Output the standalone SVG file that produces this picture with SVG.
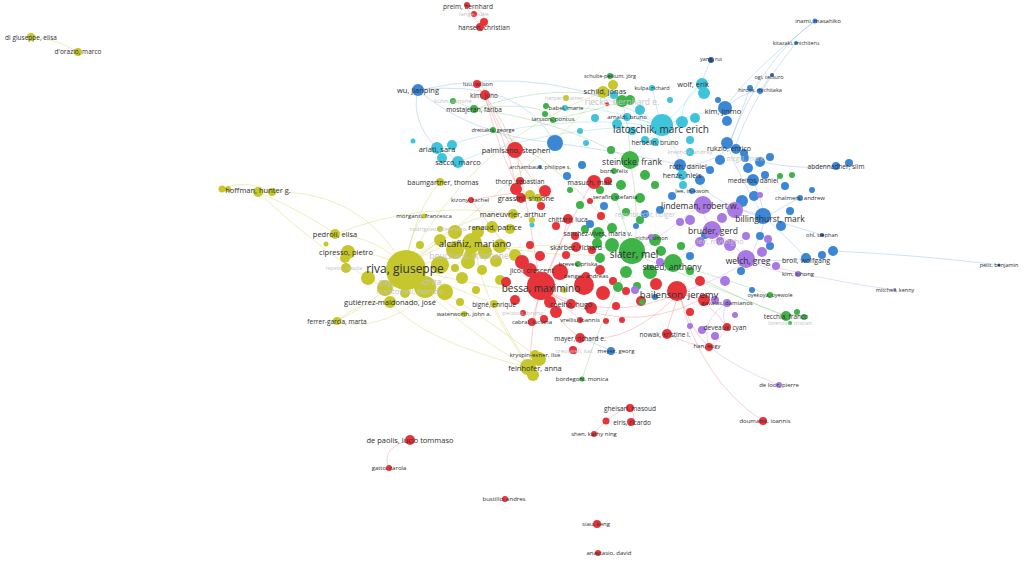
<svg xmlns="http://www.w3.org/2000/svg" width="1024" height="563" viewBox="0 0 1024 563">
<style>
.bg{fill:#fff}
.e{fill:none;stroke-width:1;opacity:.4}
.ey{stroke:#d2d26a}.er{stroke:#ee8a8c}.eg{stroke:#8ccf8c}.eb{stroke:#88b6ea}.ec{stroke:#86d8e6}.ep{stroke:#c4a6ec}
.y{fill:#c6c72c}.r{fill:#e6343a}.g{fill:#3db348}.b{fill:#3b87d6}.c{fill:#40c4dc}.p{fill:#a878e4}.d{fill:#2a5fa8}
text{font-family:"Open Sans","Liberation Sans",sans-serif;fill:#2e2e2e;text-anchor:middle;dominant-baseline:central}
text.f{fill:#c4c4c4}
.z5{font-size:5px}.z55{font-size:5.5px}.z6{font-size:6px}.z65{font-size:6.5px}.z7{font-size:7px}.z75{font-size:7.5px}.z85{font-size:8.5px}.z95{font-size:9.5px}.z10{font-size:10px}.z12{font-size:12px}
</style>
<rect class="bg" x="0" y="0" width="1024" height="563"/>
<g id="connectors">
<path class="e ey" d="M31,37 Q55,38 78,52"/>
<path class="e ey" d="M222,189 Q245,178 272,192"/>
<path class="e ey" d="M258,192 Q360,185 405,268"/>
<path class="e ey" d="M258,192 Q300,210 336,234"/>
<path class="e ey" d="M258,192 Q330,260 390,290"/>
<path class="e ey" d="M336,234 Q380,238 405,268"/>
<path class="e ey" d="M350,252 Q380,252 405,268"/>
<path class="e ey" d="M337,321 Q380,300 405,268"/>
<path class="e ey" d="M337,321 Q360,300 390,302"/>
<path class="e ey" d="M337,321 Q400,340 475,243"/>
<path class="e ey" d="M530,368 Q460,330 405,268"/>
<path class="e ey" d="M530,368 Q480,300 475,243"/>
<path class="e ey" d="M530,368 Q500,320 494,304"/>
<path class="e ey" d="M535,355 Q460,300 405,268"/>
<path class="e ey" d="M530,368 Q420,340 390,302"/>
<path class="e ey" d="M405,268 Q440,240 475,243"/>
<path class="e ey" d="M405,268 Q450,225 492,227"/>
<path class="e ey" d="M405,268 Q460,210 513,214"/>
<path class="e ey" d="M405,268 Q415,210 440,182"/>
<path class="e ey" d="M405,268 Q410,230 424,216"/>
<path class="e ey" d="M405,268 Q440,300 464,314"/>
<path class="e ey" d="M405,268 Q460,290 494,304"/>
<path class="e ey" d="M405,268 Q470,140 603,92"/>
<path class="e ey" d="M405,268 Q520,180 603,92"/>
<path class="e ey" d="M405,268 Q560,230 634,254"/>
<path class="e ey" d="M475,243 Q560,260 634,254"/>
<path class="e ey" d="M405,268 Q540,300 541,288"/>
<path class="e ey" d="M336,234 Q420,200 513,214"/>
<path class="e er" d="M467,5 Q468,16 483,25"/>
<path class="e er" d="M467,5 Q488,10 483,25"/>
<path class="e er" d="M477,84 Q486,86 485,95"/>
<path class="e er" d="M485,95 Q498,150 520,192"/>
<path class="e er" d="M477,84 Q508,140 517,190"/>
<path class="e er" d="M485,95 Q505,125 516,150"/>
<path class="e er" d="M485,95 Q515,160 542,192"/>
<path class="e er" d="M516,150 Q530,220 541,288"/>
<path class="e er" d="M541,288 Q535,278 532,270"/>
<path class="e er" d="M541,288 Q560,300 571,304"/>
<path class="e er" d="M541,288 Q535,310 532,322"/>
<path class="e er" d="M541,288 Q570,310 580,320"/>
<path class="e er" d="M541,288 Q555,320 580,338"/>
<path class="e er" d="M541,288 Q610,325 679,293"/>
<path class="e er" d="M541,288 Q560,240 592,182"/>
<path class="e er" d="M541,288 Q560,250 568,219"/>
<path class="e er" d="M541,288 Q620,340 700,300"/>
<path class="e er" d="M580,338 Q630,345 679,293"/>
<path class="e er" d="M679,293 Q670,320 666,334"/>
<path class="e er" d="M679,293 Q710,300 727,327"/>
<path class="e er" d="M679,293 Q690,330 709,347"/>
<path class="e er" d="M666,334 Q690,345 709,347"/>
<path class="e er" d="M727,327 Q720,340 709,347"/>
<path class="e er" d="M679,293 Q700,380 763,421"/>
<path class="e er" d="M541,288 Q530,330 530,368"/>
<path class="e er" d="M410,440 Q380,448 389,468"/>
<path class="e er" d="M628,408 Q638,415 631,422"/>
<path class="e er" d="M606,421 Q598,428 594,434"/>
<path class="e er" d="M606,421 Q620,410 628,408"/>
<path class="e er" d="M520,192 Q470,200 471,200"/>
<path class="e er" d="M471,200 Q500,240 541,288"/>
<path class="e eb" d="M418,90 Q520,78 555,143"/>
<path class="e eb" d="M418,90 Q470,135 555,143"/>
<path class="e eb" d="M418,90 Q410,120 437,149"/>
<path class="e eb" d="M418,90 Q560,60 661,127"/>
<path class="e eb" d="M815,21 Q760,60 728,147"/>
<path class="e eb" d="M815,21 Q740,80 725,110"/>
<path class="e eb" d="M796,43 Q750,100 735,148"/>
<path class="e eb" d="M769,77 Q766,85 760,90"/>
<path class="e eb" d="M760,90 Q735,95 725,110"/>
<path class="e eb" d="M750,88 Q735,130 728,147"/>
<path class="e eb" d="M711,59 Q705,75 700,84"/>
<path class="e eb" d="M765,218 Q740,180 728,147"/>
<path class="e eb" d="M765,218 Q790,240 806,258"/>
<path class="e eb" d="M765,218 Q785,205 800,198"/>
<path class="e eb" d="M765,218 Q760,195 753,180"/>
<path class="e eb" d="M836,166 Q800,170 760,162"/>
<path class="e eb" d="M833,251 Q920,255 999,265"/>
<path class="e eb" d="M806,258 Q780,262 748,260"/>
<path class="e eb" d="M688,166 Q720,160 728,147"/>
<path class="e eb" d="M688,166 Q700,200 765,218"/>
<path class="e eb" d="M611,351 Q600,345 580,338"/>
<path class="e eb" d="M555,143 Q610,150 688,166"/>
<path class="e eb" d="M822,235 Q790,225 765,218"/>
<path class="e ec" d="M661,127 Q690,100 700,84"/>
<path class="e ec" d="M661,127 Q700,110 725,110"/>
<path class="e ec" d="M661,127 Q640,118 627,117"/>
<path class="e ec" d="M661,127 Q660,138 655,142"/>
<path class="e ec" d="M661,127 Q655,100 652,88"/>
<path class="e ec" d="M661,127 Q630,100 603,92"/>
<path class="e ec" d="M661,127 Q550,125 458,162"/>
<path class="e ec" d="M661,127 Q550,110 437,149"/>
<path class="e ec" d="M437,149 Q450,152 458,162"/>
<path class="e ec" d="M661,127 Q640,150 630,160"/>
<path class="e ec" d="M661,127 Q680,150 682,175"/>
<path class="e ec" d="M700,84 Q680,100 682,122"/>
<path class="e ec" d="M661,127 Q600,105 566,108"/>
<path class="e eg" d="M474,109 Q462,104 453,101"/>
<path class="e eg" d="M474,109 Q560,80 622,101"/>
<path class="e eg" d="M474,109 Q560,120 630,160"/>
<path class="e eg" d="M474,109 Q540,100 553,119"/>
<path class="e eg" d="M493,130 Q560,160 634,254"/>
<path class="e eg" d="M630,160 Q640,210 634,254"/>
<path class="e eg" d="M634,254 Q660,258 673,264"/>
<path class="e eg" d="M634,254 Q615,240 600,233"/>
<path class="e eg" d="M634,254 Q720,290 786,316"/>
<path class="e eg" d="M673,264 Q730,280 770,295"/>
<path class="e eg" d="M634,254 Q620,210 615,197"/>
<path class="e eg" d="M622,101 Q600,110 553,119"/>
<path class="e eg" d="M622,101 Q630,130 630,160"/>
<path class="e eg" d="M673,264 Q740,300 786,316"/>
<path class="e eg" d="M786,316 Q798,312 804,317"/>
<path class="e eg" d="M582,379 Q600,320 634,254"/>
<path class="e ep" d="M700,205 Q705,220 712,230"/>
<path class="e ep" d="M712,230 Q735,245 748,260"/>
<path class="e ep" d="M748,260 Q760,240 765,218"/>
<path class="e ep" d="M748,260 Q780,275 798,274"/>
<path class="e ep" d="M700,205 Q740,205 765,218"/>
<path class="e ep" d="M679,293 Q700,300 727,303"/>
<path class="e ep" d="M709,347 Q700,320 727,303"/>
<path class="e ep" d="M727,327 Q720,315 727,303"/>
<path class="e ep" d="M748,260 Q820,280 895,290"/>
<path class="e ep" d="M712,230 Q690,250 673,264"/>
<path class="e ep" d="M700,205 Q670,230 634,254"/>
<path class="e ep" d="M748,260 Q720,280 679,293"/>
<path class="e ep" d="M709,347 Q740,370 779,385"/>
</g>
<g id="bubbles">
<g id="u-y1"><circle class="y" cx="440" cy="265" r="9"/></g>
<g id="u-y2"><circle class="y" cx="455" cy="250" r="9"/></g>
<g id="u-y3"><circle class="y" cx="468" cy="262" r="7"/></g>
<g id="u-y4"><circle class="y" cx="425" cy="287" r="11"/></g>
<g id="u-y5"><circle class="y" cx="445" cy="292" r="8"/></g>
<g id="u-y6"><circle class="y" cx="385" cy="288" r="8"/></g>
<g id="u-y7"><circle class="y" cx="368" cy="278" r="7"/></g>
<g id="u-y8"><circle class="y" cx="462" cy="278" r="6"/></g>
<g id="u-y9"><circle class="y" cx="485" cy="252" r="7"/></g>
<g id="u-y10"><circle class="y" cx="500" cy="246" r="7"/></g>
<g id="u-y11"><circle class="y" cx="496" cy="261" r="6"/></g>
<g id="u-y12"><circle class="y" cx="515" cy="255" r="6"/></g>
<g id="u-y13"><circle class="y" cx="455" cy="232" r="7"/></g>
<g id="u-y14"><circle class="y" cx="478" cy="232" r="6"/></g>
<g id="u-y15"><circle class="y" cx="510" cy="229" r="5"/></g>
<g id="u-y16"><circle class="y" cx="440" cy="240" r="6"/></g>
<g id="u-y17"><circle class="y" cx="420" cy="245" r="4"/></g>
<g id="u-y18"><circle class="y" cx="482" cy="270" r="5"/></g>
<g id="u-y19"><circle class="y" cx="500" cy="280" r="5"/></g>
<g id="u-y20"><circle class="y" cx="460" cy="302" r="4"/></g>
<g id="u-y21"><circle class="y" cx="476" cy="290" r="4"/></g>
<g id="u-y22"><circle class="y" cx="326" cy="244" r="2.5"/></g>
<g id="u-y23"><circle class="y" cx="345" cy="258" r="5"/></g>
<g id="u-y24"><circle class="y" cx="530" cy="195" r="5"/></g>
<g id="u-y25"><circle class="y" cx="538" cy="198" r="4"/></g>
<g id="u-y26"><circle class="y" cx="539" cy="359" r="7"/></g>
<g id="u-y27"><circle class="y" cx="533" cy="375" r="6"/></g>
<g id="u-y28"><circle class="y" cx="222" cy="189" r="3.5"/></g>
<g id="u-y29"><circle class="y" cx="228" cy="189" r="3"/></g>
<g id="u-y30"><circle class="y" cx="272" cy="192" r="4"/></g>
<g id="u-y31"><circle class="y" cx="613" cy="85" r="5"/></g>
<g id="u-y32"><circle class="y" cx="532" cy="220" r="3"/></g>
<g id="u-y33"><circle class="y" cx="564" cy="290" r="3"/></g>
<g id="u-y34"><circle class="y" cx="455" cy="268" r="4"/></g>
<g id="u-r1"><circle class="r" cx="522" cy="262" r="7"/></g>
<g id="u-r2"><circle class="r" cx="560" cy="272" r="8"/></g>
<g id="u-r3"><circle class="r" cx="584" cy="285" r="10"/></g>
<g id="u-r4"><circle class="r" cx="603" cy="293" r="7"/></g>
<g id="u-r5"><circle class="r" cx="591" cy="308" r="6"/></g>
<g id="u-r6"><circle class="r" cx="556" cy="312" r="6"/></g>
<g id="u-r7"><circle class="r" cx="515" cy="300" r="5"/></g>
<g id="u-r8"><circle class="r" cx="550" cy="302" r="6"/></g>
<g id="u-r9"><circle class="r" cx="600" cy="270" r="5"/></g>
<g id="u-r10"><circle class="r" cx="613" cy="281" r="4"/></g>
<g id="u-r11"><circle class="r" cx="540" cy="256" r="5"/></g>
<g id="u-r12"><circle class="r" cx="566" cy="255" r="4"/></g>
<g id="u-r13"><circle class="r" cx="506" cy="282" r="5"/></g>
<g id="u-r14"><circle class="r" cx="530" cy="245" r="4"/></g>
<g id="u-r15"><circle class="r" cx="616" cy="306" r="4"/></g>
<g id="u-r16"><circle class="r" cx="606" cy="321" r="3"/></g>
<g id="u-r17"><circle class="r" cx="575" cy="236" r="4"/></g>
<g id="u-r18"><circle class="r" cx="592" cy="250" r="4"/></g>
<g id="u-r19"><circle class="r" cx="626" cy="291" r="4"/></g>
<g id="u-r20"><circle class="r" cx="641" cy="301" r="5"/></g>
<g id="u-r21"><circle class="r" cx="656" cy="284" r="6"/></g>
<g id="u-r22"><circle class="r" cx="700" cy="281" r="5"/></g>
<g id="u-r23"><circle class="r" cx="704" cy="300" r="6"/></g>
<g id="u-r24"><circle class="r" cx="690" cy="312" r="4"/></g>
<g id="u-r25"><circle class="r" cx="545" cy="191" r="6"/></g>
<g id="u-r26"><circle class="r" cx="541" cy="206" r="4"/></g>
<g id="u-r27"><circle class="r" cx="556" cy="226" r="4"/></g>
<g id="u-r28"><circle class="r" cx="590" cy="201" r="3"/></g>
<g id="u-r29"><circle class="r" cx="601" cy="216" r="4"/></g>
<g id="u-r30"><circle class="r" cx="608" cy="181" r="4"/></g>
<g id="u-r31"><circle class="r" cx="516" cy="189" r="6"/></g>
<g id="u-r32"><circle class="r" cx="544" cy="319" r="4"/></g>
<g id="u-r33"><circle class="r" cx="573" cy="350" r="4"/></g>
<g id="u-r34"><circle class="r" cx="606" cy="421" r="3.5"/></g>
<g id="u-r35"><circle class="r" cx="607" cy="104" r="2"/></g>
<g id="u-r36"><circle class="r" cx="480" cy="27" r="4"/></g>
<g id="u-r37"><circle class="r" cx="622" cy="320" r="3"/></g>
<g id="u-g1"><circle class="g" cx="612" cy="245" r="7"/></g>
<g id="u-g2"><circle class="g" cx="655" cy="240" r="6"/></g>
<g id="u-g3"><circle class="g" cx="650" cy="272" r="7"/></g>
<g id="u-g4"><circle class="g" cx="626" cy="272" r="6"/></g>
<g id="u-g5"><circle class="g" cx="600" cy="258" r="5"/></g>
<g id="u-g6"><circle class="g" cx="612" cy="228" r="5"/></g>
<g id="u-g7"><circle class="g" cx="626" cy="212" r="4"/></g>
<g id="u-g8"><circle class="g" cx="640" cy="198" r="5"/></g>
<g id="u-g9"><circle class="g" cx="655" cy="185" r="4"/></g>
<g id="u-g10"><circle class="g" cx="600" cy="190" r="4"/></g>
<g id="u-g11"><circle class="g" cx="580" cy="205" r="4"/></g>
<g id="u-g12"><circle class="g" cx="621" cy="185" r="5"/></g>
<g id="u-g13"><circle class="g" cx="645" cy="175" r="5"/></g>
<g id="u-g14"><circle class="g" cx="611" cy="150" r="4"/></g>
<g id="u-g15"><circle class="g" cx="661" cy="251" r="5"/></g>
<g id="u-g16"><circle class="g" cx="681" cy="246" r="4"/></g>
<g id="u-g17"><circle class="g" cx="690" cy="271" r="4"/></g>
<g id="u-g18"><circle class="g" cx="618" cy="287" r="5"/></g>
<g id="u-g19"><circle class="g" cx="637" cy="286" r="4"/></g>
<g id="u-g20"><circle class="g" cx="597" cy="243" r="5"/></g>
<g id="u-g21"><circle class="g" cx="585" cy="229" r="4"/></g>
<g id="u-g22"><circle class="g" cx="640" cy="220" r="4"/></g>
<g id="u-g23"><circle class="g" cx="546" cy="106" r="3"/></g>
<g id="u-g24"><circle class="g" cx="797" cy="312" r="3"/></g>
<g id="u-g25"><circle class="g" cx="804" cy="317" r="3"/></g>
<g id="u-g26"><circle class="g" cx="780" cy="176" r="3"/></g>
<g id="u-g27"><circle class="g" cx="792" cy="175" r="3"/></g>
<g id="u-g28"><circle class="g" cx="570" cy="190" r="3"/></g>
<g id="u-g29"><circle class="g" cx="630" cy="100" r="5"/></g>
<g id="u-g30"><circle class="g" cx="642" cy="302" r="3"/></g>
<g id="u-g31"><circle class="g" cx="545" cy="114" r="3"/></g>
<g id="u-b1"><circle class="b" cx="555" cy="143" r="8"/></g>
<g id="u-b2"><circle class="b" cx="700" cy="180" r="5"/></g>
<g id="u-b3"><circle class="b" cx="710" cy="170" r="4"/></g>
<g id="u-b4"><circle class="b" cx="720" cy="160" r="5"/></g>
<g id="u-b5"><circle class="b" cx="736" cy="149" r="5"/></g>
<g id="u-b6"><circle class="b" cx="744" cy="153" r="4"/></g>
<g id="u-b7"><circle class="b" cx="748" cy="168" r="5"/></g>
<g id="u-b8"><circle class="b" cx="760" cy="162" r="5"/></g>
<g id="u-b9"><circle class="b" cx="770" cy="157" r="4"/></g>
<g id="u-b10"><circle class="b" cx="765" cy="175" r="4"/></g>
<g id="u-b11"><circle class="b" cx="754" cy="196" r="5"/></g>
<g id="u-b12"><circle class="b" cx="742" cy="201" r="6"/></g>
<g id="u-b13"><circle class="b" cx="785" cy="186" r="4"/></g>
<g id="u-b14"><circle class="b" cx="812" cy="190" r="3"/></g>
<g id="u-b15"><circle class="b" cx="790" cy="211" r="4"/></g>
<g id="u-b16"><circle class="b" cx="781" cy="226" r="5"/></g>
<g id="u-b17"><circle class="b" cx="760" cy="236" r="4"/></g>
<g id="u-b18"><circle class="b" cx="770" cy="246" r="4"/></g>
<g id="u-b19"><circle class="b" cx="822" cy="255" r="4"/></g>
<g id="u-b20"><circle class="b" cx="833" cy="251" r="5"/></g>
<g id="u-b21"><circle class="b" cx="849" cy="163" r="4"/></g>
<g id="u-b22"><circle class="b" cx="672" cy="196" r="4"/></g>
<g id="u-b23"><circle class="b" cx="660" cy="210" r="4"/></g>
<g id="u-b24"><circle class="b" cx="727" cy="121" r="5"/></g>
<g id="u-b25"><circle class="b" cx="718" cy="100" r="3"/></g>
<g id="u-b26"><circle class="b" cx="590" cy="224" r="4"/></g>
<g id="u-b27"><circle class="b" cx="604" cy="206" r="4"/></g>
<g id="u-b28"><circle class="b" cx="705" cy="235" r="4"/></g>
<g id="u-b29"><circle class="b" cx="690" cy="256" r="4"/></g>
<g id="u-b30"><circle class="b" cx="741" cy="271" r="4"/></g>
<g id="u-b31"><circle class="b" cx="752" cy="290" r="3"/></g>
<g id="u-b32"><circle class="b" cx="582" cy="165" r="4"/></g>
<g id="u-b33"><circle class="b" cx="567" cy="176" r="4"/></g>
<g id="u-b34"><circle class="b" cx="750" cy="88" r="3"/></g>
<g id="u-b35"><circle class="b" cx="655" cy="297" r="3"/></g>
<g id="u-b36"><circle class="b" cx="636" cy="226" r="3"/></g>
<g id="u-c1"><circle class="c" cx="682" cy="122" r="6"/></g>
<g id="u-c2"><circle class="c" cx="695" cy="118" r="5"/></g>
<g id="u-c3"><circle class="c" cx="704" cy="93" r="6"/></g>
<g id="u-c4"><circle class="c" cx="640" cy="110" r="5"/></g>
<g id="u-c5"><circle class="c" cx="617" cy="124" r="5"/></g>
<g id="u-c6"><circle class="c" cx="645" cy="140" r="4"/></g>
<g id="u-c7"><circle class="c" cx="595" cy="118" r="4"/></g>
<g id="u-c8"><circle class="c" cx="580" cy="131" r="3"/></g>
<g id="u-c9"><circle class="c" cx="632" cy="131" r="4"/></g>
<g id="u-c10"><circle class="c" cx="690" cy="140" r="4"/></g>
<g id="u-c11"><circle class="c" cx="670" cy="100" r="3"/></g>
<g id="u-c12"><circle class="c" cx="614" cy="95" r="4"/></g>
<g id="u-c13"><circle class="c" cx="586" cy="143" r="3"/></g>
<g id="u-c14"><circle class="c" cx="452" cy="145" r="5"/></g>
<g id="u-c15"><circle class="c" cx="442" cy="158" r="5"/></g>
<g id="u-c16"><circle class="c" cx="413" cy="141" r="2.5"/></g>
<g id="u-c17"><circle class="c" cx="683" cy="185" r="4"/></g>
<g id="u-c18"><circle class="c" cx="532" cy="225" r="2.5"/></g>
<g id="u-p1"><circle class="p" cx="735" cy="210" r="8"/></g>
<g id="u-p2"><circle class="p" cx="722" cy="218" r="5"/></g>
<g id="u-p3"><circle class="p" cx="690" cy="220" r="5"/></g>
<g id="u-p4"><circle class="p" cx="700" cy="242" r="5"/></g>
<g id="u-p5"><circle class="p" cx="730" cy="245" r="6"/></g>
<g id="u-p6"><circle class="p" cx="762" cy="252" r="5"/></g>
<g id="u-p7"><circle class="p" cx="768" cy="239" r="4"/></g>
<g id="u-p8"><circle class="p" cx="725" cy="281" r="5"/></g>
<g id="u-p9"><circle class="p" cx="715" cy="300" r="4"/></g>
<g id="u-p10"><circle class="p" cx="735" cy="315" r="3"/></g>
<g id="u-p11"><circle class="p" cx="702" cy="330" r="4"/></g>
<g id="u-p12"><circle class="p" cx="715" cy="336" r="4"/></g>
<g id="u-p13"><circle class="p" cx="680" cy="222" r="4"/></g>
<g id="u-p14"><circle class="p" cx="660" cy="262" r="4"/></g>
<g id="u-p15"><circle class="p" cx="776" cy="266" r="4"/></g>
<g id="u-p16"><circle class="p" cx="746" cy="236" r="4"/></g>
<g id="u-p17"><circle class="p" cx="635" cy="290" r="4"/></g>
<g id="u-p18"><circle class="p" cx="690" cy="326" r="3"/></g>
<g id="u-p19"><circle class="p" cx="760" cy="195" r="3"/></g>
</g>
<g id="nodes">
<g id="n-digiuseppe"><circle class="y" cx="31" cy="37" r="4"/><text class="z65" x="31" y="37">di giuseppe, elisa</text></g>
<g id="n-dorazio"><circle class="y" cx="78" cy="52" r="4"/><text class="z65" x="78" y="51">d'orazio, marco</text></g>
<g id="n-hoffman"><circle class="y" cx="258" cy="192" r="5"/><text class="z75" x="258" y="190">hoffman, hunter g.</text></g>
<g id="n-repetto"><circle class="y" cx="346" cy="268" r="5"/><text class="f z5" x="344" y="268">repetto, claudia</text></g>
<g id="n-pedroli"><circle class="y" cx="335" cy="234" r="5"/><text class="z75" x="335" y="234">pedroli, elisa</text></g>
<g id="n-cipresso"><circle class="y" cx="348" cy="252" r="7"/><text class="z75" x="346" y="252">cipresso, pietro</text></g>
<g id="n-ferrer"><circle class="y" cx="337" cy="321" r="4"/><text class="z65" x="337" y="321">ferrer-garcía, marta</text></g>
<g id="n-gutierrez"><circle class="y" cx="390" cy="302" r="6"/><text class="z75" x="390" y="302">gutiérrez-maldonado, josé</text></g>
<g id="n-gaggioli"><circle class="y" cx="410" cy="282" r="6"/><text class="f z85" x="410" y="281">gaggioli, andrea</text></g>
<g id="n-mantovani"><circle class="y" cx="405" cy="293" r="5"/><text class="f z75" x="410" y="291">mantovani, fabrizio</text></g>
<g id="n-baumgartner"><circle class="y" cx="440" cy="182" r="4"/><text class="z7" x="443" y="182">baumgartner, thomas</text></g>
<g id="n-morganti"><circle class="y" cx="424" cy="216" r="2.5"/><text class="z6" x="424" y="216">morganti, francesca</text></g>
<g id="n-rodriguez"><circle class="y" cx="440" cy="229" r="3"/><text class="f z6" x="438" y="229">rodriguez, alejandro</text></g>
<g id="n-bouchard"><circle class="y" cx="470" cy="255" r="6"/><text class="f z85" x="469" y="255">bouchard, stéphane</text></g>
<g id="n-bigne"><circle class="y" cx="494" cy="304" r="4"/><text class="z65" x="494" y="304">bigné, enrique</text></g>
<g id="n-waterworth"><circle class="y" cx="464" cy="314" r="3"/><text class="z6" x="464" y="314">waterworth, john a.</text></g>
<g id="n-kryspin"><circle class="y" cx="535" cy="355" r="5"/><text class="z6" x="535" y="355">kryspin-exner, ilse</text></g>
<g id="n-felnhofer"><circle class="y" cx="528" cy="367" r="8"/><text class="z75" x="535" y="368">felnhofer, anna</text></g>
<g id="n-schild"><circle class="y" cx="603" cy="92" r="6"/><text class="z75" x="605" y="91">schild, jonas</text></g>
<g id="n-herpers"><circle class="y" cx="566" cy="98" r="3"/><text class="f z55" x="564" y="98">herpers, rainer</text></g>
<g id="n-renaud"><circle class="y" cx="492" cy="227" r="6"/><text class="z75" x="495" y="227">renaud, patrice</text></g>
<g id="n-maneuvrier"><circle class="y" cx="513" cy="214" r="5"/><text class="z75" x="513" y="214">maneuvrier, arthur</text></g>
<g id="n-alcaniz"><circle class="y" cx="472" cy="243" r="10"/><text class="z95" x="475" y="243">alcañiz, mariano</text></g>
<g id="n-riva"><circle class="y" cx="406" cy="270" r="20"/><text class="z12" x="405" y="268">riva, giuseppe</text></g>
<g id="n-preim"><circle class="r" cx="467" cy="5" r="3"/><text class="z65" x="468" y="6">preim, bernhard</text></g>
<g id="n-lange"><circle class="r" cx="474" cy="14" r="3"/><text class="f z6" x="474" y="14">lange, luke</text></g>
<g id="n-hansen"><circle class="r" cx="484" cy="22" r="4"/><text class="z65" x="484" y="27">hansen, christian</text></g>
<g id="n-luu"><circle class="r" cx="477" cy="84" r="4"/><text class="z6" x="478" y="84">luu, wilson</text></g>
<g id="n-kimjuno"><circle class="r" cx="485" cy="95" r="5"/><text class="z65" x="484" y="95">kim, juno</text></g>
<g id="n-palmisano"><circle class="r" cx="515" cy="150" r="8"/><text class="z75" x="516" y="150">palmisano, stephen</text></g>
<g id="n-thorp"><circle class="r" cx="520" cy="181" r="4"/><text class="z65" x="520" y="181">thorp, sebastian</text></g>
<g id="n-kizony"><circle class="r" cx="471" cy="200" r="3"/><text class="z6" x="470" y="200">kizony, rachel</text></g>
<g id="n-grassini"><circle class="r" cx="521" cy="198" r="5"/><text class="z75" x="526" y="198">grassini, simone</text></g>
<g id="n-masuch"><circle class="r" cx="594" cy="182" r="7"/><text class="z7" x="590" y="182">masuch, maic</text></g>
<g id="n-chittaro"><circle class="r" cx="568" cy="219" r="5"/><text class="z65" x="568" y="219">chittaro, luca</text></g>
<g id="n-skarbez"><circle class="r" cx="576" cy="247" r="5"/><text class="z7" x="576" y="247">skarbez, richard</text></g>
<g id="n-breves"><circle class="g" cx="578" cy="264" r="3"/><text class="z6" x="578" y="264">breves, priska</text></g>
<g id="n-dengel"><circle class="r" cx="586" cy="276" r="4"/><text class="z6" x="586" y="276">dengel, andreas</text></g>
<g id="n-jicol"><circle class="r" cx="530" cy="270" r="7"/><text class="z7" x="532" y="270">jicol, crescent</text></g>
<g id="n-coelho"><circle class="r" cx="571" cy="304" r="5"/><text class="z7" x="571" y="304">coelho, hugo</text></g>
<g id="n-peixoto"><circle class="r" cx="523" cy="313" r="3"/><text class="f z6" x="523" y="313">peixoto, bruno</text></g>
<g id="n-cabral"><circle class="r" cx="532" cy="322" r="4"/><text class="z6" x="532" y="322">cabral, luciana</text></g>
<g id="n-vrellis"><circle class="r" cx="580" cy="320" r="3"/><text class="z6" x="580" y="320">vrellis, ioannis</text></g>
<g id="n-mayer"><circle class="r" cx="580" cy="338" r="5"/><text class="z65" x="580" y="338">mayer, richard e.</text></g>
<g id="n-bessa"><circle class="r" cx="541" cy="286" r="14"/><text class="z10" x="541" y="288">bessa, maximino</text></g>
<g id="n-nowak"><circle class="r" cx="667" cy="334" r="5"/><text class="z65" x="665" y="334">nowak, kristine l.</text></g>
<g id="n-deveaux"><circle class="r" cx="727" cy="327" r="4"/><text class="z65" x="725" y="327">deveaux, cyan</text></g>
<g id="n-han"><circle class="r" cx="709" cy="347" r="4"/><text class="z6" x="707" y="346">han, eugy</text></g>
<g id="n-bailenson"><circle class="r" cx="677" cy="291" r="10"/><text class="z95" x="679" y="294">bailenson, jeremy</text></g>
<g id="n-doumanis"><circle class="r" cx="763" cy="421" r="4"/><text class="z6" x="765" y="421">doumanis, ioannis</text></g>
<g id="n-gheisari"><circle class="r" cx="630" cy="408" r="4"/><text class="z65" x="630" y="408">gheisari, masoud</text></g>
<g id="n-eiris"><circle class="r" cx="631" cy="422" r="4"/><text class="z65" x="632" y="422">eiris, ricardo</text></g>
<g id="n-shen"><circle class="r" cx="594" cy="434" r="3"/><text class="z6" x="594" y="434">shen, kathy ning</text></g>
<g id="n-depaolis"><circle class="r" cx="410" cy="440" r="5"/><text class="z75" x="410" y="440">de paolis, lucio tommaso</text></g>
<g id="n-gatto"><circle class="r" cx="389" cy="468" r="3"/><text class="z6" x="389" y="468">gatto, carola</text></g>
<g id="n-bustillo"><circle class="r" cx="505" cy="499" r="3"/><text class="z6" x="504" y="499">bustillo, andres</text></g>
<g id="n-siau"><circle class="r" cx="597" cy="524" r="4"/><text class="z6" x="596" y="524">siau, keng</text></g>
<g id="n-anastasio"><circle class="r" cx="598" cy="553" r="3"/><text class="z6" x="609" y="553">anastasio, david</text></g>
<g id="n-kuhn"><circle class="g" cx="453" cy="101" r="3"/><text class="f z6" x="453" y="101">kühn, simone</text></g>
<g id="n-mostajeran"><circle class="g" cx="474" cy="109" r="4"/><text class="z65" x="474" y="109">mostajeran, fariba</text></g>
<g id="n-drettakis"><circle class="g" cx="493" cy="130" r="3"/><text class="z55" x="493" y="130">drettakis, george</text></g>
<g id="n-archambault"><circle class="b" cx="540" cy="167" r="2"/><text class="z55" x="540" y="167">archambault, philippe s.</text></g>
<g id="n-larsson"><circle class="g" cx="553" cy="120" r="3"/><text class="z6" x="553" y="119">larsson, pontus</text></g>
<g id="n-babel"><circle class="c" cx="565" cy="108" r="3"/><text class="z6" x="566" y="108">babel, marie</text></g>
<g id="n-schulte"><circle class="g" cx="610" cy="76" r="3"/><text class="z55" x="610" y="76">schulte-pelkum, jörg</text></g>
<g id="n-riecke"><circle class="g" cx="622" cy="101" r="6"/><text class="f z85" x="622" y="101">riecke, bernhard e.</text></g>
<g id="n-born"><circle class="g" cx="614" cy="171" r="3"/><text class="z6" x="614" y="171">born, felix</text></g>
<g id="n-serafin"><circle class="g" cx="615" cy="197" r="4"/><text class="z6" x="615" y="197">serafin, stefania</text></g>
<g id="n-regenbrecht"><circle class="b" cx="645" cy="214" r="4"/><text class="f z65" x="645" y="214">regenbrecht, holger</text></g>
<g id="n-sanchez"><circle class="g" cx="598" cy="233" r="6"/><text class="z65" x="598" y="233">sanchez-vives, maria v.</text></g>
<g id="n-richir"><circle class="p" cx="651" cy="237" r="3"/><text class="z55" x="652" y="238">richir, simon</text></g>
<g id="n-steinicke"><circle class="g" cx="630" cy="160" r="9"/><text class="z85" x="632" y="161">steinicke, frank</text></g>
<g id="n-slater"><circle class="g" cx="632" cy="251" r="13"/><text class="z10" x="634" y="254">slater, mel</text></g>
<g id="n-steed"><circle class="g" cx="673" cy="263" r="9"/><text class="z85" x="672" y="266">steed, anthony</text></g>
<g id="n-oyekoya"><circle class="g" cx="770" cy="295" r="3"/><text class="z55" x="770" y="295">oyekoya, oyewole</text></g>
<g id="n-tecchia"><circle class="g" cx="786" cy="316" r="5"/><text class="z65" x="786" y="316">tecchia, franco</text></g>
<g id="n-lorenzini"><circle class="g" cx="790" cy="323" r="2"/><text class="f z55" x="790" y="323">lorenzini, cristian</text></g>
<g id="n-bordegoni"><circle class="g" cx="582" cy="379" r="2.5"/><text class="z6" x="582" y="379">bordegoni, monica</text></g>
<g id="n-wu"><circle class="b" cx="418" cy="90" r="6"/><text class="z75" x="418" y="90">wu, jianping</text></g>
<g id="n-inami"><circle class="b" cx="815" cy="21" r="2.5"/><text class="z6" x="818" y="21">inami, masahiko</text></g>
<g id="n-kitazaki"><circle class="b" cx="796" cy="43" r="2"/><text class="z55" x="796" y="43">kitazaki, michiteru</text></g>
<g id="n-yang"><circle class="d" cx="711" cy="60" r="3"/><text class="z55" x="711" y="59">yang, rui</text></g>
<g id="n-ogi"><circle class="d" cx="772" cy="75" r="2"/><text class="z55" x="769" y="77">ogi, tetsuro</text></g>
<g id="n-hirose"><circle class="b" cx="760" cy="91" r="3"/><text class="z55" x="760" y="90">hirose, michitaka</text></g>
<g id="n-kimjinmo"><circle class="b" cx="725" cy="108" r="7"/><text class="z75" x="723" y="111">kim, jinmo</text></g>
<g id="n-krekhov"><circle class="c" cx="690" cy="152" r="4"/><text class="f z6" x="690" y="152">krekhov, andrey</text></g>
<g id="n-mcgill"><circle class="b" cx="745" cy="158" r="4"/><text class="f z65" x="745" y="158">mcgill, mark</text></g>
<g id="n-rukzio"><circle class="b" cx="727" cy="143" r="6"/><text class="z7" x="729" y="148">rukzio, enrico</text></g>
<g id="n-abdennadher"><circle class="b" cx="836" cy="166" r="4"/><text class="z65" x="836" y="166">abdennadher, slim</text></g>
<g id="n-roth"><circle class="b" cx="680" cy="165" r="6"/><text class="z7" x="688" y="166">roth, daniel</text></g>
<g id="n-henze"><circle class="c" cx="682" cy="175" r="5"/><text class="z7" x="682" y="175">henze, niels</text></g>
<g id="n-medeiros"><circle class="b" cx="753" cy="180" r="6"/><text class="z65" x="753" y="180">medeiros, daniel</text></g>
<g id="n-leeinkwon"><circle class="b" cx="692" cy="191" r="3"/><text class="z6" x="692" y="191">lee, in-kwon</text></g>
<g id="n-chalmers"><circle class="b" cx="800" cy="198" r="3"/><text class="z6" x="800" y="198">chalmers, andrew</text></g>
<g id="n-ohl"><circle class="d" cx="822" cy="235" r="2"/><text class="z55" x="822" y="235">ohl, stephan</text></g>
<g id="n-broll"><circle class="b" cx="806" cy="258" r="5"/><text class="z7" x="806" y="260">broll, wolfgang</text></g>
<g id="n-petit"><circle class="d" cx="999" cy="265" r="1.5"/><text class="z55" x="999" y="265">petit, benjamin</text></g>
<g id="n-meyer"><circle class="b" cx="611" cy="351" r="4"/><text class="z6" x="616" y="351">meyer, georg</text></g>
<g id="n-cres"><circle class="r" cx="574" cy="351" r="3"/><text class="f z6" x="574" y="351">cresswell, kat</text></g>
<g id="n-arlati"><circle class="c" cx="437" cy="148" r="6"/><text class="z75" x="437" y="149">arlati, sara</text></g>
<g id="n-sacco"><circle class="c" cx="458" cy="162" r="6"/><text class="z75" x="458" y="162">sacco, marco</text></g>
<g id="n-kulpa"><circle class="c" cx="652" cy="88" r="3"/><text class="z55" x="652" y="88">kulpa, richard</text></g>
<g id="n-wolf"><circle class="c" cx="702" cy="84" r="6"/><text class="z75" x="693" y="84">wolf, erik</text></g>
<g id="n-arnaldi"><circle class="c" cx="627" cy="117" r="4"/><text class="z6" x="627" y="117">arnaldi, bruno</text></g>
<g id="n-herbelin"><circle class="c" cx="655" cy="142" r="4"/><text class="z65" x="655" y="142">herbelin, bruno</text></g>
<g id="n-latoschik"><circle class="c" cx="662" cy="125" r="11"/><text class="z10" x="661" y="129">latoschik, marc erich</text></g>
<g id="n-lindeman"><circle class="p" cx="703" cy="205" r="9"/><text class="z85" x="700" y="205">lindeman, robert w.</text></g>
<g id="n-billinghurst"><circle class="b" cx="763" cy="216" r="8"/><text class="z85" x="770" y="218">billinghurst, mark</text></g>
<g id="n-leemyungho"><circle class="p" cx="720" cy="241" r="4"/><text class="f z75" x="720" y="241">lee, myungho</text></g>
<g id="n-bruder"><circle class="p" cx="712" cy="230" r="9"/><text class="z85" x="713" y="230">bruder, gerd</text></g>
<g id="n-welch"><circle class="p" cx="746" cy="259" r="9"/><text class="z85" x="748" y="260">welch, greg</text></g>
<g id="n-kimkihong"><circle class="p" cx="798" cy="274" r="3"/><text class="z6" x="798" y="274">kim, kihong</text></g>
<g id="n-gavalas"><circle class="p" cx="727" cy="303" r="4"/><text class="z6" x="727" y="303">gavalas, damianos</text></g>
<g id="n-deloor"><circle class="p" cx="779" cy="385" r="3"/><text class="z6" x="779" y="385">de loor, pierre</text></g>
<g id="n-mitchell"><circle class="p" cx="895" cy="290" r="1.5"/><text class="z55" x="895" y="290">mitchell, kenny</text></g>
</g>
</svg>
